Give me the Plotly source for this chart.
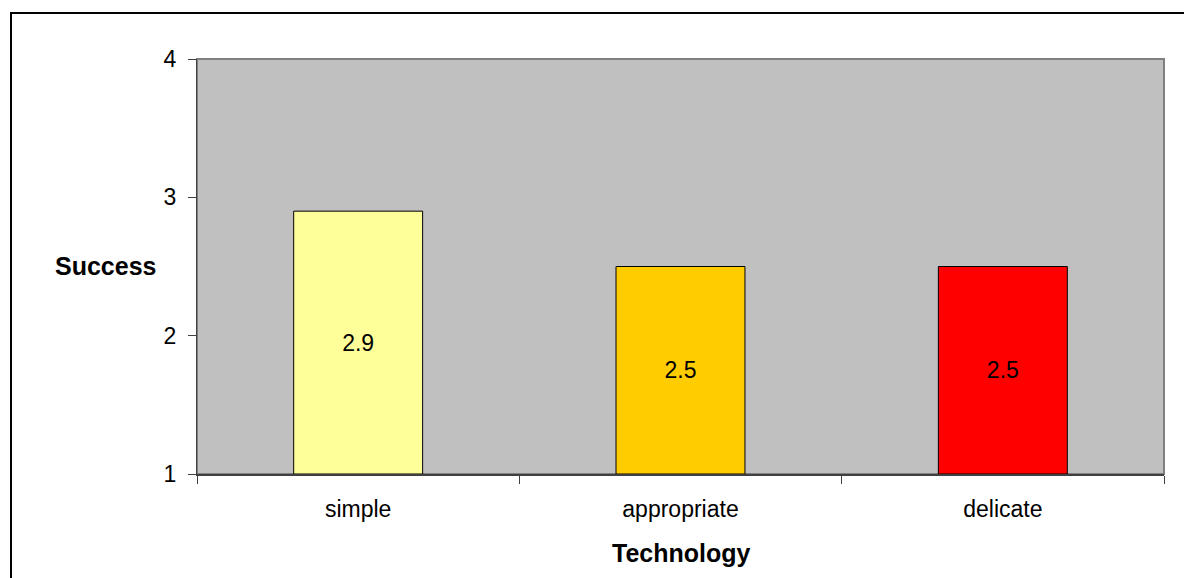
import plotly.graph_objects as go

# Technology categories and their average success score
categories = ["simple", "appropriate", "delicate"]
success = [2.9, 2.5, 2.5]
bar_colors = ["#FFFF99", "#FFCC00", "#FF0000"]
y_ticks = [1, 2, 3, 4]

AXIS_BASE = 1  # bars rise from the bottom of the value axis

FONT = "Arial, Liberation Sans, sans-serif"

fig = go.Figure(
    go.Bar(
        x=categories,
        y=[v - AXIS_BASE for v in success],
        base=AXIS_BASE,
        width=0.4,
        marker=dict(color=bar_colors, line=dict(color="#000000", width=1)),
        text=[f"{v:.1f}" for v in success],
        textposition="inside",
        insidetextanchor="middle",
        textangle=0,
        textfont=dict(family=FONT, size=23, color="#000000"),
        hoverinfo="skip",
    )
)

W, H = 1184, 578
L, R, T, B = 197, 20, 59, 104
pw, ph = W - L - R, H - T - B

def px_x(x):
    return (x - L) / pw

def px_y(y):
    return (H - B - y) / ph

fig.update_layout(
    width=W,
    height=H,
    margin=dict(l=L, r=R, t=T, b=B, pad=0),
    paper_bgcolor="#FFFFFF",
    plot_bgcolor="#C0C0C0",
    showlegend=False,
    font=dict(family=FONT, size=23, color="#000000"),
    xaxis=dict(
        type="category",
        tickson="boundaries",
        ticks="outside",
        ticklen=8,
        tickcolor="#404040",
        showline=True,
        linecolor="#404040",
        linewidth=2,
        showgrid=False,
        zeroline=False,
        tickfont=dict(size=23),
        ticklabelstandoff=13,
        range=[-0.5, 2.5],
    ),
    yaxis=dict(
        range=[1, 4],
        tickvals=y_ticks,
        ticks="outside",
        ticklen=8,
        tickcolor="#404040",
        showline=True,
        linecolor="#404040",
        linewidth=1,
        showgrid=False,
        zeroline=False,
        tickfont=dict(size=23),
        ticklabelstandoff=7,
    ),
    shapes=[
        # plot-area frame
        dict(type="rect", xref="paper", yref="paper", x0=0, y0=0, x1=1, y1=1,
             line=dict(color="#808080", width=2), layer="below"),
        # outer chart border
        dict(type="rect", xref="paper", yref="paper",
             x0=px_x(11), y0=px_y(H + 5), x1=px_x(W + 5), y1=px_y(13),
             line=dict(color="#000000", width=2)),
    ],
    annotations=[
        dict(text="<b>Success</b>", xref="paper", yref="paper",
             x=px_x(105), y=px_y(266), xanchor="center", yanchor="middle",
             showarrow=False, font=dict(size=25)),
        dict(text="<b>Technology</b>", xref="paper", yref="paper",
             x=px_x(681), y=px_y(553), xanchor="center", yanchor="middle",
             showarrow=False, font=dict(size=25)),
    ],
)

fig.write_html("out.html")
